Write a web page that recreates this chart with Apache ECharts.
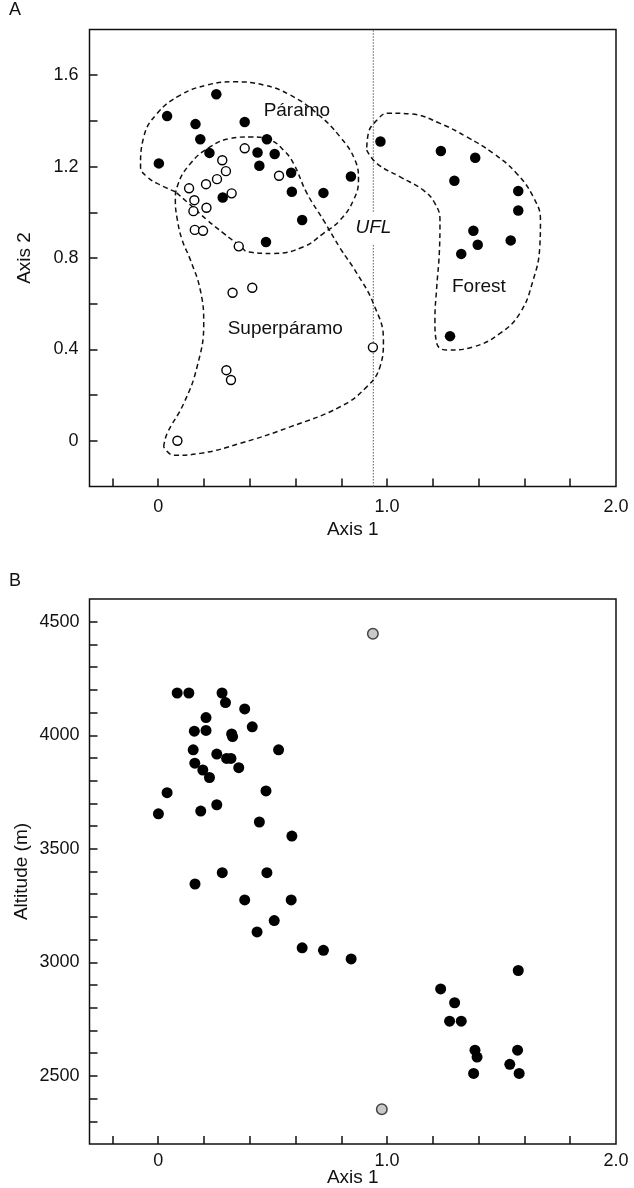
<!DOCTYPE html>
<html>
<head>
<meta charset="utf-8">
<script src="https://cdn.jsdelivr.net/npm/echarts@6/dist/echarts.min.js"></script>
<style>
  html, body { margin: 0; padding: 0; background: #fff; }
  #chart { width: 634px; height: 1188px; }
</style>
</head>
<body>
<div id="chart"></div>
<script>
// ---- Panel A: ordination scores (Axis 1 vs Axis 2) ----
const paramoPts = [
  [0.254, 1.517], [0.039, 1.421], [0.163, 1.386], [0.378, 1.395], [0.184, 1.320],
  [0.475, 1.320], [0.224, 1.260], [0.434, 1.262], [0.509, 1.255], [0.003, 1.214],
  [0.442, 1.204], [0.581, 1.173], [0.842, 1.157], [0.584, 1.090], [0.722, 1.085],
  [0.282, 1.065], [0.629, 0.966], [0.471, 0.870]
];
const forestPts = [
  [0.971, 1.310], [1.235, 1.268], [1.385, 1.239], [1.294, 1.138], [1.573, 1.093],
  [1.573, 1.008], [1.377, 0.919], [1.396, 0.858], [1.540, 0.877], [1.324, 0.818],
  [1.275, 0.458]
];
const superparamoPts = [
  [0.378, 1.280], [0.280, 1.228], [0.296, 1.180], [0.257, 1.145], [0.209, 1.123],
  [0.135, 1.105], [0.321, 1.083], [0.528, 1.160], [0.158, 1.053], [0.154, 1.005],
  [0.211, 1.020], [0.160, 0.923], [0.196, 0.919], [0.352, 0.851], [0.325, 0.648],
  [0.411, 0.670], [0.298, 0.309], [0.318, 0.266], [0.938, 0.409], [0.084, 0.000]
];

// Group outlines (closed dashed curves), in axis units
const paramoHull = [
  [0.075, 1.090], [0.010, 1.119], [-0.048, 1.155], [-0.077, 1.199], [-0.063, 1.330],
  [-0.004, 1.433], [0.097, 1.513], [0.214, 1.557], [0.330, 1.571], [0.461, 1.557],
  [0.577, 1.513], [0.693, 1.433], [0.795, 1.330], [0.860, 1.228], [0.875, 1.141],
  [0.853, 1.053], [0.795, 0.966], [0.722, 0.908], [0.635, 0.849], [0.504, 0.820],
  [0.394, 0.826], [0.359, 0.852], [0.286, 0.908], [0.214, 0.966], [0.141, 1.032],
  [0.075, 1.090]
];
const superparamoHull = [
  [0.024, -0.026], [0.039, 0.032], [0.112, 0.164], [0.170, 0.324], [0.199, 0.514],
  [0.184, 0.660], [0.141, 0.791], [0.105, 0.878], [0.084, 0.966], [0.075, 1.053],
  [0.083, 1.112], [0.141, 1.214], [0.228, 1.287], [0.315, 1.323], [0.403, 1.330],
  [0.490, 1.316], [0.548, 1.272], [0.591, 1.214], [0.650, 1.083], [0.722, 0.966],
  [0.795, 0.843], [0.868, 0.733], [0.940, 0.601], [0.984, 0.441], [0.969, 0.324],
  [0.911, 0.236], [0.795, 0.149], [0.577, 0.061], [0.359, -0.011], [0.184, -0.055],
  [0.068, -0.063], [0.024, -0.026]
];
const forestHull = [
  [0.911, 1.272], [0.955, 1.214], [1.057, 1.155], [1.158, 1.097], [1.209, 1.039],
  [1.231, 0.966], [1.228, 0.820], [1.217, 0.674], [1.209, 0.528], [1.217, 0.426],
  [1.260, 0.397], [1.376, 0.411], [1.493, 0.470], [1.580, 0.558], [1.638, 0.703],
  [1.667, 0.849], [1.670, 0.966], [1.638, 1.068], [1.566, 1.170], [1.464, 1.258],
  [1.348, 1.330], [1.231, 1.389], [1.109, 1.430], [1.004, 1.434], [0.955, 1.403],
  [0.918, 1.345], [0.911, 1.272]
];

// Upper forest line (UFL) position on Axis 1, split around its label
const uflX = 0.94;
const uflLower = [[uflX, -0.2], [uflX, 0.864]];
const uflUpper = [[uflX, 1.002], [uflX, 1.8]];

const groupLabels = [
  { name: 'Páramo', value: [0.606, 1.446] },
  { name: 'Superpáramo', value: [0.555, 0.492] },
  { name: 'Forest', value: [1.401, 0.674] }
];
const uflLabel = [{ name: 'UFL', value: [0.94, 0.933] }];

// ---- Panel B: Axis 1 score vs altitude (m) ----
const altitudePts = [
  [0.083, 4186], [0.134, 4186], [0.279, 4186], [0.294, 4144], [0.378, 4116],
  [0.209, 4078], [0.411, 4037], [0.158, 4018], [0.209, 4021], [0.321, 4006],
  [0.325, 3994], [0.153, 3936], [0.526, 3936], [0.256, 3917], [0.299, 3898],
  [0.318, 3898], [0.160, 3877], [0.352, 3857], [0.195, 3847], [0.224, 3814],
  [0.039, 3747], [0.471, 3755], [0.256, 3694], [0.001, 3654], [0.186, 3666],
  [0.442, 3618], [0.584, 3556], [0.161, 3345], [0.280, 3395], [0.475, 3395],
  [0.378, 3275], [0.581, 3275], [0.507, 3184], [0.432, 3134], [0.629, 3064],
  [0.722, 3053], [0.843, 3015], [1.573, 2964], [1.234, 2883], [1.295, 2822],
  [1.273, 2741], [1.324, 2741], [1.384, 2613], [1.393, 2583], [1.570, 2613],
  [1.536, 2551], [1.378, 2511], [1.577, 2511]
];
const ecotonePts = [[0.938, 4447], [0.977, 2353]];

// ---- Tick positions and labels ----
const xTicks = [-0.2, 0, 0.2, 0.4, 0.6, 0.8, 1.0, 1.2, 1.4, 1.6, 1.8];
const xLabels = [0, 1, 2];
const yTicksA = [0, 0.2, 0.4, 0.6, 0.8, 1.0, 1.2, 1.4, 1.6];
const yLabelsA = [0, 0.4, 0.8, 1.2, 1.6];
const yTicksB = [2300, 2400, 2500, 2600, 2700, 2800, 2900, 3000, 3100, 3200, 3300,
  3400, 3500, 3600, 3700, 3800, 3900, 4000, 4100, 4200, 4300, 4400, 4500];
const yLabelsB = [2500, 3000, 3500, 4000, 4500];

const FONT = 'Liberation Sans, Arial, Helvetica, sans-serif';
const INK = '#111';
const TICK_FS = 18;
const TEXT_FS = 19;

function decimalFmt(v) {
  return Math.abs(v) < 1e-9 ? '0' : v.toFixed(1);
}
function intFmt(v) {
  return String(Math.round(v));
}

function valueAxis(opts) {
  return Object.assign({
    type: 'value',
    axisLine: { show: false, onZero: false },
    splitLine: { show: false },
    nameLocation: 'middle',
    nameMoveOverlap: false,
    nameTextStyle: { color: INK, fontSize: TEXT_FS, fontFamily: FONT }
  }, opts);
}
function ticks(values) {
  return { show: true, inside: true, length: 8, customValues: values, lineStyle: { color: INK, width: 1.5 } };
}
function labels(values, margin, fmt) {
  return { color: INK, fontSize: TICK_FS, fontFamily: FONT, margin: margin, customValues: values, formatter: fmt };
}

const hullStyle = { color: INK, width: 1.5, type: [5, 3.5] };

function hullSeries(data) {
  return {
    type: 'line', xAxisIndex: 0, yAxisIndex: 0, data: data,
    symbol: 'none', smooth: 0.45, silent: true,
    lineStyle: hullStyle, z: 2
  };
}

const chart = echarts.init(document.getElementById('chart'), null, { renderer: 'canvas' });

chart.setOption({
  backgroundColor: '#fff',
  animation: false,
  textStyle: { fontFamily: FONT },
  grid: [
    { left: 89.5, top: 29.5, width: 526.5, height: 457, show: true, borderColor: INK, borderWidth: 1.5, backgroundColor: 'transparent' },
    { left: 89.5, top: 599, width: 526.5, height: 546, show: true, borderColor: INK, borderWidth: 1.5, backgroundColor: 'transparent' }
  ],
  graphic: [
    { type: 'text', left: 9, top: 1, style: { text: 'A', fontSize: TICK_FS, fontFamily: FONT, fill: INK } },
    { type: 'text', left: 9, top: 572, style: { text: 'B', fontSize: TICK_FS, fontFamily: FONT, fill: INK } }
  ],
  xAxis: [
    valueAxis({
      gridIndex: 0, min: -0.3, max: 2.0, name: 'Axis 1', nameGap: 34,
      axisTick: ticks(xTicks), axisLabel: labels(xLabels, 12, decimalFmt)
    }),
    valueAxis({
      gridIndex: 1, min: -0.3, max: 2.0, name: 'Axis 1', nameGap: 24,
      axisTick: ticks(xTicks), axisLabel: labels(xLabels, 8, decimalFmt)
    })
  ],
  yAxis: [
    valueAxis({
      gridIndex: 0, min: -0.2, max: 1.8, name: 'Axis 2', nameGap: 55,
      axisTick: ticks(yTicksA), axisLabel: labels(yLabelsA, 11, decimalFmt)
    }),
    valueAxis({
      gridIndex: 1, min: 2200, max: 4600, name: 'Altitude (m)', nameGap: 58,
      axisTick: ticks(yTicksB), axisLabel: labels(yLabelsB, 10, intFmt)
    })
  ],
  series: [
    hullSeries(paramoHull),
    hullSeries(superparamoHull),
    hullSeries(forestHull),
    {
      type: 'line', xAxisIndex: 0, yAxisIndex: 0, data: uflLower, symbol: 'none', silent: true,
      lineStyle: { color: '#777', width: 1.2, type: [1.5, 1.5] }, z: 1
    },
    {
      type: 'line', xAxisIndex: 0, yAxisIndex: 0, data: uflUpper, symbol: 'none', silent: true,
      lineStyle: { color: '#777', width: 1.2, type: [1.5, 1.5] }, z: 1
    },
    {
      name: 'Páramo', type: 'scatter', xAxisIndex: 0, yAxisIndex: 0, data: paramoPts,
      symbolSize: 10.5, itemStyle: { color: '#000', opacity: 1 }, z: 5
    },
    {
      name: 'Forest', type: 'scatter', xAxisIndex: 0, yAxisIndex: 0, data: forestPts,
      symbolSize: 10.5, itemStyle: { color: '#000', opacity: 1 }, z: 5
    },
    {
      name: 'Superpáramo', type: 'scatter', xAxisIndex: 0, yAxisIndex: 0, data: superparamoPts,
      symbolSize: 9, itemStyle: { color: '#fff', borderColor: '#000', borderWidth: 1.4, opacity: 1 }, z: 5
    },
    {
      type: 'scatter', xAxisIndex: 0, yAxisIndex: 0, data: groupLabels, symbolSize: 0, silent: true,
      itemStyle: { opacity: 1 },
      label: { show: true, position: 'inside', formatter: '{b}', color: INK, fontSize: TEXT_FS, fontFamily: FONT }, z: 6
    },
    {
      type: 'scatter', xAxisIndex: 0, yAxisIndex: 0, data: uflLabel, symbolSize: 0, silent: true,
      itemStyle: { opacity: 1 },
      label: { show: true, position: 'inside', formatter: '{b}', color: INK, fontSize: TEXT_FS, fontStyle: 'italic', fontFamily: FONT }, z: 6
    },
    {
      name: 'Plots', type: 'scatter', xAxisIndex: 1, yAxisIndex: 1, data: altitudePts,
      symbolSize: 11, itemStyle: { color: '#000', opacity: 1 }, z: 5
    },
    {
      name: 'Ecotone', type: 'scatter', xAxisIndex: 1, yAxisIndex: 1, data: ecotonePts,
      symbolSize: 10.5, itemStyle: { color: '#c9c9c9', borderColor: '#444', borderWidth: 1.5, opacity: 1 }, z: 5
    }
  ]
});
</script>
</body>
</html>
